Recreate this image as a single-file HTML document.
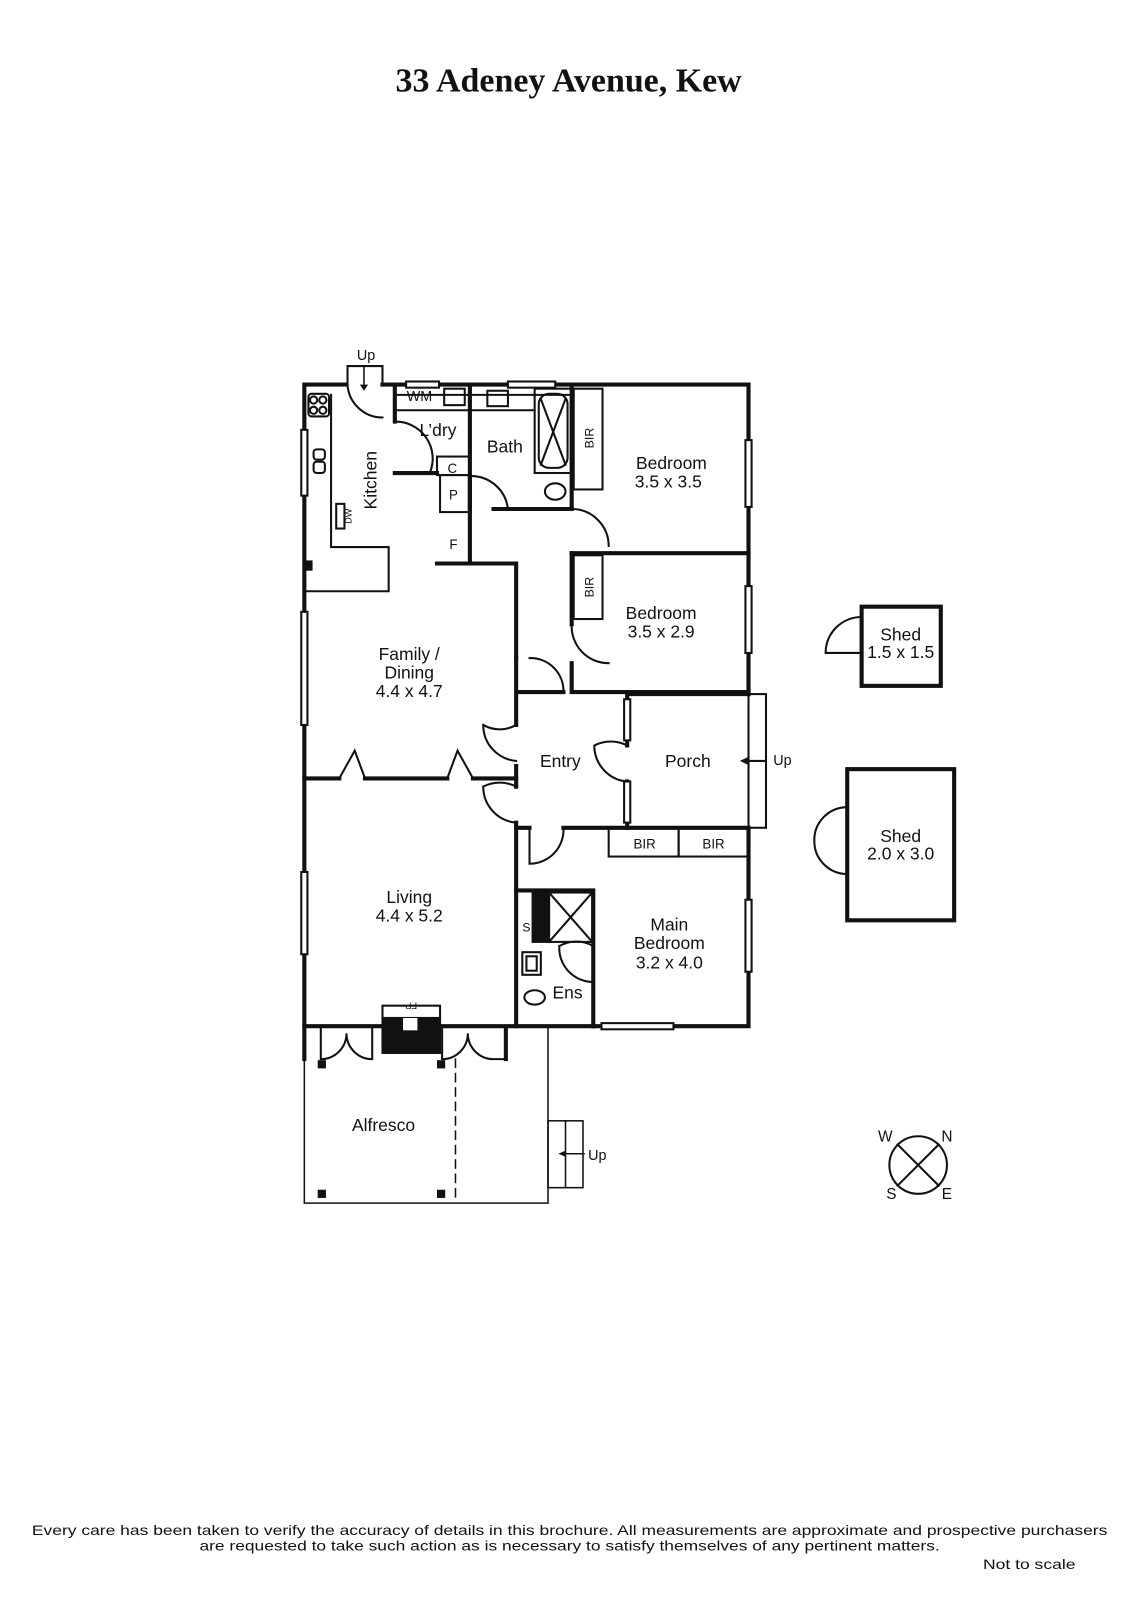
<!DOCTYPE html>
<html><head><meta charset="utf-8"><style>
html,body{margin:0;padding:0;background:#fff}
svg{display:block}
text{font-family:"Liberation Sans",sans-serif;fill:#111}
</style></head><body>
<svg width="1131" height="1600" viewBox="0 0 1100 1556" preserveAspectRatio="none" xmlns="http://www.w3.org/2000/svg">
<rect width="1100" height="1556" fill="#fff"/>
<text x="553" y="89" text-anchor="middle" style="font-family:'Liberation Serif',serif;font-weight:bold;font-size:33px">33 Adeney Avenue, Kew</text>

<g stroke="#111" fill="none" stroke-linecap="square">
<!-- thick walls -->
<g stroke-width="4">
<path d="M336 374 H296 V998 H372"/>
<path d="M372 374 H728 V675"/>
<path d="M556 374 V495"/>
<path d="M556 538 H728"/>
<path d="M556 538 V607 M556 645 V673 H728"/>
<path d="M457 374 V548"/>
<path d="M384 374 V410 M384 460 H425"/>
<path d="M425 548 H502 V640"/>
<path d="M502 673 H548 M502 640 V705 M502 745 V765 M502 800 V998"/>
<path d="M610 675 H728 M610 675 V690 M610 710 V725 M610 760 V805"/>
<path d="M548 805 H728 V998 H577"/>
<path d="M502 805 H515"/>
<path d="M296 757 H330 M355 757 H435 M460 757 H502"/>
<path d="M430 998 H502 H577 M296 998 V1030 M492 998 V1030"/>
<path d="M480 495 H556 M457 463 V495"/>
<path d="M577 920 V998 M502 866 H577 V920"/>
</g>
<!-- kitchen bench -->
<g stroke-width="2">
<path d="M322 384 V532 H378 V575 H298"/>
<path d="M384 384 H555 M384 399 H520 M457 399 H520"/>
<rect x="432" y="378" width="20" height="16"/>
<rect x="474" y="380" width="20" height="15"/>
<rect x="520" y="378" width="36" height="82"/>
<rect x="524" y="383" width="28" height="72" rx="10"/>
<path d="M526 388 L550 452 M550 388 L526 452"/>
<rect x="425" y="444" width="32" height="18"/>
<rect x="428" y="462" width="29" height="36"/>
<rect x="558" y="378" width="28" height="98"/>
<rect x="558" y="540" width="28" height="62"/>
<rect x="327" y="490" width="8" height="24"/>
<rect x="300" y="383" width="20" height="22" rx="3"/>
<circle cx="305" cy="389" r="3.5"/><circle cx="314" cy="389" r="3.5"/><circle cx="305" cy="399" r="3.5"/><circle cx="314" cy="399" r="3.5"/>
<rect x="305" y="437" width="11" height="10" rx="3"/><rect x="305" y="449" width="11" height="11" rx="3"/>
<ellipse cx="540" cy="478" rx="10" ry="8"/>
<!-- doors -->
<path d="M338 356 H372 V374 M338 356 V374 M338 374 A34 34 0 0 0 372 406"/>
<path d="M384 410 A36 36 0 0 1 418 460"/>
<path d="M457 463 A36 36 0 0 1 494 495"/>
<path d="M556 495 A36 36 0 0 1 592 531"/>
<path d="M556 607 A36 36 0 0 0 592 645 V645"/>
<path d="M515 640 A32 32 0 0 1 548 673"/>
<path d="M502 705 A32 32 0 0 1 470 705 M470 705 A35 35 0 0 0 502 740"/>
<path d="M502 765 A35 35 0 0 0 470 765 M470 765 A35 35 0 0 0 502 800"/>
<path d="M515 805 V840 A33 33 0 0 0 548 805"/>
<path d="M610 725 A35 35 0 0 0 578 725 A35 35 0 0 0 610 760"/>
<path d="M330 757 L345 730 L355 757 M435 757 L445 730 L460 757"/>
<path d="M577 920 A33 33 0 0 0 544 920 V920"/>
<path d="M544 920 A33 33 0 0 0 577 955"/>
<path d="M312 998 V1030 A25 25 0 0 0 337 1005 A25 25 0 0 0 362 1030 V1000"/>
<path d="M430 1000 V1030 A25 25 0 0 0 455 1005 A25 25 0 0 0 480 1030 H492"/>
<!-- BIR -->
<rect x="592" y="805" width="68" height="28"/><rect x="660" y="805" width="68" height="28"/>
<!-- porch step -->
<rect x="728" y="675" width="17" height="130"/>
<path d="M745 740 H722"/><path d="M722 740 l6 -3 v6 z" fill="#111"/>
<!-- ensuite -->
<rect x="534" y="868" width="42" height="48"/><path d="M534 868 L576 916 M576 868 L534 916"/>
<rect x="518" y="868" width="16" height="48" fill="#111"/>
<rect x="508" y="926" width="18" height="22"/><rect x="512" y="930" width="10" height="14"/>
<ellipse cx="520" cy="970" rx="10" ry="7"/>
<!-- fireplace -->
<rect x="372" y="978" width="56" height="12"/>
<rect x="372" y="990" width="56" height="34" fill="#111"/>
<rect x="392" y="990" width="14" height="12" fill="#fff" stroke="none"/>
<!-- alfresco -->
<g stroke-width="1.5">
<path d="M296 1030 V1170 H533 V998"/>
<path d="M443 1030 V1170" stroke-dasharray="8 6"/>
<rect x="533" y="1090" width="34" height="65"/><path d="M550 1090 V1155"/>
<path d="M568 1122 H547"/>
</g>
<!-- windows -->
<g stroke-width="2" fill="#fff">
<rect x="293" y="418" width="6" height="64"/>
<rect x="293" y="595" width="6" height="110"/>
<rect x="293" y="848" width="6" height="80"/>
<rect x="395" y="371" width="32" height="6"/>
<rect x="494" y="371" width="46" height="6"/>
<rect x="725" y="428" width="6" height="65"/>
<rect x="725" y="570" width="6" height="65"/>
<rect x="725" y="875" width="6" height="70"/>
<rect x="585" y="995" width="70" height="6"/>
<rect x="607" y="680" width="6" height="40"/>
<rect x="607" y="760" width="6" height="40"/>
</g>
<!-- sheds -->
<g stroke-width="4"><rect x="838" y="590" width="77" height="77"/><rect x="824" y="748" width="104" height="147"/></g>
<path d="M838 600 A35 35 0 0 0 803 635 H838"/>
<path d="M824 785 A32 32 0 0 0 792 818 A32 32 0 0 0 824 850"/>
<!-- compass -->
<circle cx="893" cy="1133" r="28" stroke-width="2"/>
<path d="M873 1113 L913 1153 M913 1113 L873 1153" stroke-width="2"/>
</g>
</g>
<g fill="#111">
<rect x="296" y="545" width="8" height="10"/>
<rect x="309" y="1031" width="8" height="8"/><rect x="425" y="1031" width="8" height="8"/>
<rect x="309" y="1157" width="8" height="8"/><rect x="425" y="1157" width="8" height="8"/>
<path d="M354 380 l-4 -6 h8 z"/><path d="M354 356 V378" stroke="#111" stroke-width="1.5"/>
<path d="M543 1122 l7 -3 v6 z"/>
</g>

<g font-size="17" text-anchor="middle">
<text x="356" y="350" font-size="14">Up</text>
<text x="408" y="390" font-size="14">WM</text>
<text x="426" y="424">L’dry</text>
<text x="491" y="440">Bath</text>
<text x="440" y="460" font-size="13">C</text>
<text x="441" y="486" font-size="13">P</text>
<text x="441" y="534" font-size="13">F</text>
<text transform="translate(366 467) rotate(-90)">Kitchen</text>
<text transform="translate(342 502) rotate(-90)" font-size="9">DW</text>
<text transform="translate(577 426) rotate(-90)" font-size="12">BIR</text>
<text transform="translate(577 571) rotate(-90)" font-size="12">BIR</text>
<text x="653" y="456">Bedroom</text><text x="650" y="474">3.5 x 3.5</text>
<text x="643" y="602">Bedroom</text><text x="643" y="620">3.5 x 2.9</text>
<text x="398" y="642">Family /</text><text x="398" y="660">Dining</text><text x="398" y="678">4.4 x 4.7</text>
<text x="545" y="746">Entry</text>
<text x="669" y="746">Porch</text>
<text x="761" y="744" font-size="14">Up</text>
<text x="627" y="825" font-size="13">BIR</text><text x="694" y="825" font-size="13">BIR</text>
<text x="398" y="878">Living</text><text x="398" y="896">4.4 x 5.2</text>
<text x="651" y="905">Main</text><text x="651" y="923">Bedroom</text><text x="651" y="942">3.2 x 4.0</text>
<text x="512" y="906" font-size="12">S</text>
<text x="552" y="971">Ens</text>
<text transform="translate(400 975) rotate(180)" font-size="9">FP</text>
<text x="373" y="1100">Alfresco</text>
<text x="581" y="1128" font-size="14">Up</text>
<text x="876" y="623">Shed</text><text x="876" y="640">1.5 x 1.5</text>
<text x="876" y="819">Shed</text><text x="876" y="836">2.0 x 3.0</text>
<text x="861" y="1110" font-size="15">W</text>
<text x="921" y="1110" font-size="15">N</text>
<text x="867" y="1166" font-size="15">S</text>
<text x="921" y="1166" font-size="15">E</text>
</g>
<g font-size="13">
<text x="31" y="1493" textLength="1046" lengthAdjust="spacingAndGlyphs">Every care has been taken to verify the accuracy of details in this brochure.  All measurements are approximate and prospective purchasers</text>
<text x="194" y="1508" textLength="720" lengthAdjust="spacingAndGlyphs">are requested to take such action as is necessary to satisfy themselves of any pertinent matters.</text>
<text x="956" y="1526" textLength="90" lengthAdjust="spacingAndGlyphs">Not to scale</text>
</g>
</svg>
</body></html>
